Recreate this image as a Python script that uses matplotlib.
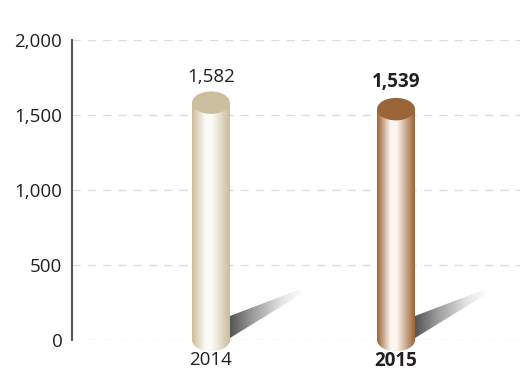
import numpy as np
import matplotlib
matplotlib.use('Agg')
import matplotlib.pyplot as plt
from matplotlib.colors import LinearSegmentedColormap
from matplotlib.patches import Ellipse, PathPatch, Polygon
from matplotlib.path import Path
from matplotlib.ticker import FuncFormatter

plt.rcParams['font.family'] = ['Open Sans', 'DejaVu Sans']

# Data
years = ['2014', '2015']
values = [1582, 1539]
bold = [False, True]
# colours: (edge, highlight, top cap)
bar_colors = [('#c9bc9a', '#fdfbf7', '#cbbf9f'),
              ('#9a6234', '#fdf6f0', '#9b6637')]

text_color = '#231f20'
bar_w = 0.205      # cylinder width in data units
cap_h = 150        # ellipse height in data units

fig = plt.figure(figsize=(5.26, 3.70), dpi=100)
ax = fig.add_axes([0.1369, 0.0811, 0.8517, 0.8108])


# Draw one shaded cylinder with its drop shadow
def draw_cylinder(ax, x, value, colors):
    edge, light, top = colors
    cmap = LinearSegmentedColormap.from_list(
        'cyl', [(0, edge), (0.36, light), (0.52, light), (1, edge)])
    grad = np.linspace(0, 1, 256).reshape(1, -1)

    # shadow first
    sx = [x + bar_w / 2, x + bar_w / 2, x + 0.47, x + 0.497]
    sy = [13, 160, 333, 313]
    shadow = Polygon(list(zip(sx, sy)), closed=True, facecolor='none',
                     edgecolor='none')
    ax.add_patch(shadow)
    scmap = LinearSegmentedColormap.from_list(
        'sh', [(0, '#555555'), (0.3, '#9a9a9a'), (0.7, '#e4e4e4'), (1, '#ffffff')])
    im = ax.imshow(grad, cmap=scmap, aspect='auto', zorder=2,
                   extent=[x + bar_w / 2, x + 0.5, 0, 340])
    im.set_clip_path(shadow)

    # body with rounded bottom
    t = np.linspace(0, np.pi, 60)
    bx = x + bar_w / 2 * np.cos(t)
    by = -cap_h / 2 * np.sin(t)
    verts = [(x - bar_w / 2, value), (x + bar_w / 2, value)] + \
        list(zip(bx, by)) + [(x - bar_w / 2, value)]
    body = PathPatch(Path(verts), facecolor='none', edgecolor='none')
    ax.add_patch(body)
    im = ax.imshow(grad, cmap=cmap, aspect='auto', zorder=3,
                   extent=[x - bar_w / 2, x + bar_w / 2, -cap_h / 2, value])
    im.set_clip_box(fig.bbox)
    im.set_clip_path(body)

    cap = Ellipse((x, value), bar_w, cap_h, facecolor=top,
                  edgecolor='none', zorder=4)
    ax.add_patch(cap)


for i, v in enumerate(values):
    draw_cylinder(ax, i, v, bar_colors[i])
    ax.annotate(f'{v:,}', (i, v + cap_h / 2), xytext=(0, 4),
                textcoords='offset points', ha='center', va='bottom',
                fontsize=13.5, color=text_color,
                fontweight='bold' if bold[i] else 'normal')

ax.set_xlim(-0.751, 1.67)
ax.set_ylim(0, 2000)
ax.set_yticks([0, 500, 1000, 1500, 2000])
ax.yaxis.set_major_formatter(FuncFormatter(lambda v, p: f'{int(v):,}'))
ax.set_xticks(range(len(years)))
ax.set_xticklabels(years)
for lbl, b in zip(ax.get_xticklabels(), bold):
    if b:
        lbl.set_fontweight('bold')

ax.tick_params(axis='y', length=0, pad=7, labelsize=13.5, labelcolor=text_color)
ax.tick_params(axis='x', length=0, pad=8, labelsize=13.5, labelcolor=text_color)

ax.grid(axis='y', color='#dddddd', linestyle=(0, (6, 5)), linewidth=1)
ax.set_axisbelow(True)
for s in ['top', 'right', 'bottom']:
    ax.spines[s].set_visible(False)
ax.spines['left'].set_color('#5a5656')
ax.spines['left'].set_linewidth(1.5)

fig.savefig('out.png', dpi=100)
